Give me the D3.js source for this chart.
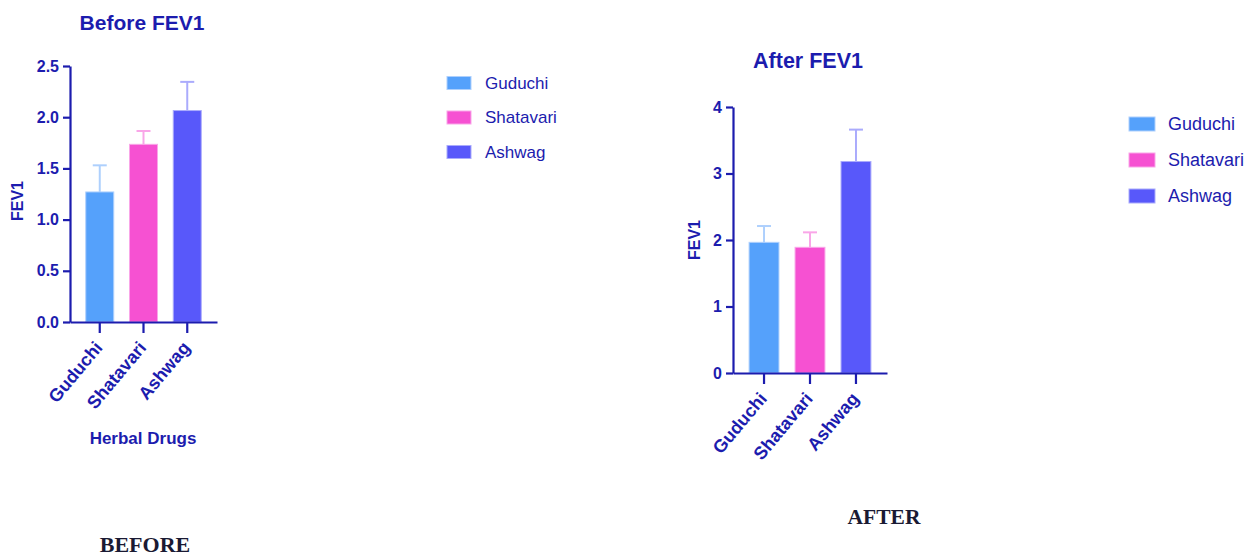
<!DOCTYPE html>
<html>
<head>
<meta charset="utf-8">
<script src="https://cdn.jsdelivr.net/npm/d3@7"></script>
<style>
    html, body { margin: 0; padding: 0; background: #fff; }
    svg { display: block; font-family: "Liberation Sans", Arial, sans-serif; }
</style>
</head>
<body>
<svg id="chart" width="1256" height="557"></svg>
<script>
// Data
const drugs = ["Guduchi", "Shatavari", "Ashwag"];
const beforeMeans = [1.27, 1.735, 2.065];
const beforeSD = [0.26, 0.13, 0.28];
const afterMeans = [1.965, 1.89, 3.18];
const afterSD = [0.245, 0.225, 0.48];
const beforeTicks = [0, 0.5, 1.0, 1.5, 2.0, 2.5];
const afterTicks = [0, 1, 2, 3, 4];

const barColors = ["#55a1fb", "#f651d2", "#5858fa"];
const lightColors = ["#aed0fd", "#f9a6e8", "#aaabfc"];
const inkColor = "#1c1cae";

const svg = d3.select("#chart");

// Draw one bar panel
const drawPanel = (cfg) => {
    const x = d3.scaleBand()
        .domain(drugs)
        .range([cfg.left, cfg.right])
        .paddingInner(cfg.pad)
        .paddingOuter(cfg.pad);

    const y = d3.scaleLinear()
        .domain(cfg.domain)
        .range([cfg.bottom, cfg.top]);

    const g = svg.append("g");

    const rows = drugs.map((d, i) => ({ d, i, mean: cfg.means[i], sd: cfg.sd[i] }));

    // Error bars (under the bars, so only the upper arm shows)
    const err = g.selectAll(".err").data(rows).enter().append("g");
    err.append("line")
        .attr("x1", r => x(r.d) + x.bandwidth() / 2)
        .attr("x2", r => x(r.d) + x.bandwidth() / 2)
        .attr("y1", r => y(r.mean))
        .attr("y2", r => y(r.mean + r.sd))
        .attr("stroke", r => lightColors[r.i])
        .attr("stroke-width", 2);
    err.append("line")
        .attr("x1", r => x(r.d) + x.bandwidth() / 2 - 7)
        .attr("x2", r => x(r.d) + x.bandwidth() / 2 + 7)
        .attr("y1", r => y(r.mean + r.sd))
        .attr("y2", r => y(r.mean + r.sd))
        .attr("stroke", r => lightColors[r.i])
        .attr("stroke-width", 2);

    // Bars
    g.selectAll(".bar").data(rows).enter().append("rect")
        .attr("x", r => x(r.d))
        .attr("y", r => y(r.mean))
        .attr("width", x.bandwidth())
        .attr("height", r => y(0) - y(r.mean))
        .attr("fill", r => barColors[r.i])
        .attr("stroke", r => lightColors[r.i])
        .attr("stroke-width", 1);

    // Axes
    const yAxis = g.append("g")
        .attr("transform", `translate(${cfg.left},0)`)
        .call(d3.axisLeft(y).tickValues(cfg.ticks).tickFormat(cfg.fmt).tickSize(7).tickSizeOuter(0).tickPadding(4));

    const xAxis = g.append("g")
        .attr("transform", `translate(0,${cfg.bottom})`)
        .call(d3.axisBottom(x).tickSize(11).tickSizeOuter(0));

    [yAxis, xAxis].forEach(a => {
        a.select(".domain").attr("stroke", inkColor).attr("stroke-width", 2.2);
        a.selectAll(".tick line").attr("stroke", inkColor).attr("stroke-width", 2.2);
        a.selectAll("text")
            .attr("fill", inkColor)
            .attr("font-size", 16)
            .attr("font-weight", "bold")
            .attr("font-family", "Liberation Sans, Arial, sans-serif");
    });

    xAxis.selectAll(".tick text")
        .attr("text-anchor", "end")
        .attr("x", 0)
        .attr("y", 0)
        .attr("dy", "0.35em")
        .attr("font-size", cfg.xFont)
        .attr("transform", "translate(-1,22) rotate(-50)");

    // Title
    g.append("text")
        .attr("x", cfg.titleX)
        .attr("y", cfg.titleY)
        .attr("text-anchor", "middle")
        .attr("font-size", cfg.titleFont)
        .attr("font-weight", "bold")
        .attr("fill", inkColor)
        .text(cfg.title);

    // Y label
    g.append("text")
        .attr("transform", `translate(${cfg.ylabX},${cfg.ylabY}) rotate(-90)`)
        .attr("text-anchor", "middle")
        .attr("dy", "0.35em")
        .attr("font-size", 16)
        .attr("font-weight", "bold")
        .attr("fill", inkColor)
        .text("FEV1");

    // Legend
    const leg = g.selectAll(".leg").data(rows).enter().append("g")
        .attr("transform", r => `translate(${cfg.legX},${cfg.legY + r.i * cfg.legStep})`);
    leg.append("rect")
        .attr("x", 0)
        .attr("y", -cfg.swH / 2)
        .attr("width", cfg.swW)
        .attr("height", cfg.swH)
        .attr("fill", r => barColors[r.i])
        .attr("stroke", r => lightColors[r.i]);
    leg.append("text")
        .attr("x", cfg.legTextX)
        .attr("dy", "0.35em")
        .attr("font-size", cfg.legFont)
        .attr("fill", inkColor)
        .text(r => r.d);

    return g;
};

drawPanel({
    left: 70, right: 217, top: 66, bottom: 322, pad: 0.36,
    domain: [0, 2.5], ticks: beforeTicks, fmt: d3.format(".1f"),
    means: beforeMeans, sd: beforeSD, xFont: 18,
    title: "Before FEV1", titleX: 142, titleY: 30, titleFont: 21,
    ylabX: 17, ylabY: 201,
    legX: 447, legY: 83, legStep: 34.5, swW: 24, swH: 13, legTextX: 38, legFont: 17
});

drawPanel({
    left: 733, right: 887, top: 107, bottom: 373, pad: 0.35,
    domain: [0, 4], ticks: afterTicks, fmt: d3.format("d"), xFont: 18,
    means: afterMeans, sd: afterSD,
    title: "After FEV1", titleX: 808, titleY: 68, titleFont: 21.5,
    ylabX: 694, ylabY: 240,
    legX: 1129, legY: 124, legStep: 36, swW: 26, swH: 14, legTextX: 39, legFont: 18
});

// X axis title (before panel only)
svg.append("text")
    .attr("x", 143)
    .attr("y", 444)
    .attr("text-anchor", "middle")
    .attr("font-size", 17)
    .attr("font-weight", "bold")
    .attr("fill", inkColor)
    .text("Herbal Drugs");

// Figure captions
svg.append("text")
    .attr("x", 145)
    .attr("y", 552)
    .attr("text-anchor", "middle")
    .attr("font-family", "Liberation Serif, 'Times New Roman', serif")
    .attr("font-size", 22)
    .attr("font-weight", "bold")
    .attr("fill", "#1a1a33")
    .text("BEFORE");

svg.append("text")
    .attr("x", 884)
    .attr("y", 524)
    .attr("text-anchor", "middle")
    .attr("font-family", "Liberation Serif, 'Times New Roman', serif")
    .attr("font-size", 21.5)
    .attr("font-weight", "bold")
    .attr("fill", "#1a1a33")
    .text("AFTER");
</script>
</body>
</html>
